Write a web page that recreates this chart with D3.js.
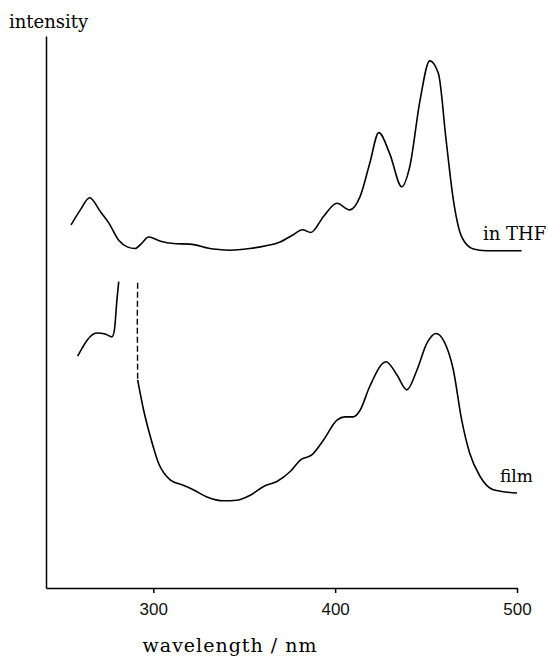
<!DOCTYPE html>
<html>
  <head>
    <script src="https://d3js.org/d3.v7.min.js"></script>
    <style>
      body { margin: 0; background: #fff; }
      svg { font-family: "DejaVu Serif", serif; }
      .domain, .tick > line { stroke: #000; stroke-width: 1.5; }
      .tick > text { font-size: 17px; fill: #111; }
    </style>
  </head>
  <body>
    <svg width="548" height="660"></svg>
    <script>
      // wavelength (nm), intensity (arb. units)
      var thfWave = [254.8, 259.9, 265, 270.9, 275.4, 281, 285.7, 290, 293.5, 297.4, 304, 311, 320, 333, 342, 353, 362, 369.8, 377, 382, 386.6, 393.6, 401, 408, 413.7, 419, 424, 430, 436.6, 441, 446.7, 452, 456.8, 461, 465, 469.6, 476, 483, 502.5];
      var thfInt  = [65.8, 68.5, 70.7, 68.2, 66.2, 63.0, 61.8, 61.5, 62.4, 63.6, 62.8, 62.4, 62.3, 61.4, 61.2, 61.5, 62.0, 62.7, 64.0, 64.9, 64.4, 67.3, 69.7, 68.5, 70.9, 76.9, 82.5, 78.7, 72.7, 76.3, 88.4, 95.5, 93.2, 81.2, 70.3, 63.6, 61.4, 61.1, 61.1];

      // film, short-wavelength piece
      var filmAWave = [258.4, 260.8, 263.6, 269, 273.6, 277.3, 278.6, 280, 281];
      var filmAInt  = [42.0, 43.4, 44.9, 46.2, 46.0, 45.5, 46.7, 52.2, 55.5];

      // film, dashed drop
      var filmDashWave = [291.4, 291.2, 291.4];
      var filmDashInt  = [55.3, 48.6, 37.7];

      // film, main piece
      var filmBWave = [291.4, 294.7, 298.4, 302.9, 309.3, 315.8, 322, 329.5, 338.6, 346, 353.3, 360.6, 368, 375.3, 381, 387.2, 393.6, 401, 405.5, 410, 413.7, 419, 428, 434, 439.4, 445, 450.4, 455.5, 459.5, 465, 469.6, 474, 479.7, 487, 500];
      var filmBInt  = [37.7, 32.2, 27.4, 22.6, 19.6, 18.7, 17.8, 16.5, 15.8, 15.9, 16.8, 18.4, 19.3, 21.1, 23.2, 24.1, 26.8, 30.4, 31.0, 31.0, 32.2, 36.5, 41.0, 38.6, 35.9, 39.5, 44.3, 46.1, 44.9, 39.5, 30.4, 24.4, 20.2, 17.8, 17.2];

      var xTicks = [300, 400, 500];

      var svg = d3.select("svg");

      var xScale = d3.scaleLinear().domain([241, 500]).range([46, 517]);
      var yScale = d3.scaleLinear().domain([0, 100]).range([588, 36]);

      var xAxis = d3.axisBottom(xScale)
        .tickValues(xTicks)
        .tickSizeInner(5)
        .tickSizeOuter(0)
        .tickPadding(10);

      svg.append("g")
        .attr("transform", "translate(0,588)")
        .call(xAxis);

      svg.append("g")
        .attr("transform", "translate(46,0)")
        .call(d3.axisLeft(yScale).tickValues([]).tickSizeOuter(0));

      function pairs(w, v) {
        return w.map((d, i) => [d, v[i]]);
      }

      var line = d3.line()
        .x(d => xScale(d[0]))
        .y(d => yScale(d[1]))
        .curve(d3.curveMonotoneX);

      var straight = d3.line()
        .x(d => xScale(d[0]))
        .y(d => yScale(d[1]));

      svg.append("path")
        .attr("d", line(pairs(thfWave, thfInt)))
        .attr("fill", "none")
        .attr("stroke", "#000")
        .attr("stroke-width", 1.6);

      svg.append("path")
        .attr("d", line(pairs(filmAWave, filmAInt)))
        .attr("fill", "none")
        .attr("stroke", "#000")
        .attr("stroke-width", 1.6);

      svg.append("path")
        .attr("d", straight(pairs(filmDashWave, filmDashInt)))
        .attr("fill", "none")
        .attr("stroke", "#000")
        .attr("stroke-width", 1.4)
        .attr("stroke-dasharray", "6,3");

      svg.append("path")
        .attr("d", line(pairs(filmBWave, filmBInt)))
        .attr("fill", "none")
        .attr("stroke", "#000")
        .attr("stroke-width", 1.6);

      svg.append("text")
        .attr("x", 9).attr("y", 28)
        .attr("font-size", 18)
        .text("intensity");

      svg.append("text")
        .attr("x", 230).attr("y", 652)
        .attr("text-anchor", "middle")
        .attr("font-size", 19)
        .attr("letter-spacing", 1)
        .text("wavelength / nm");

      svg.append("text")
        .attr("x", 483).attr("y", 240)
        .attr("font-size", 18)
        .text("in THF");

      svg.append("text")
        .attr("x", 500).attr("y", 482)
        .attr("font-size", 17)
        .text("film");
    </script>
  </body>
</html>
